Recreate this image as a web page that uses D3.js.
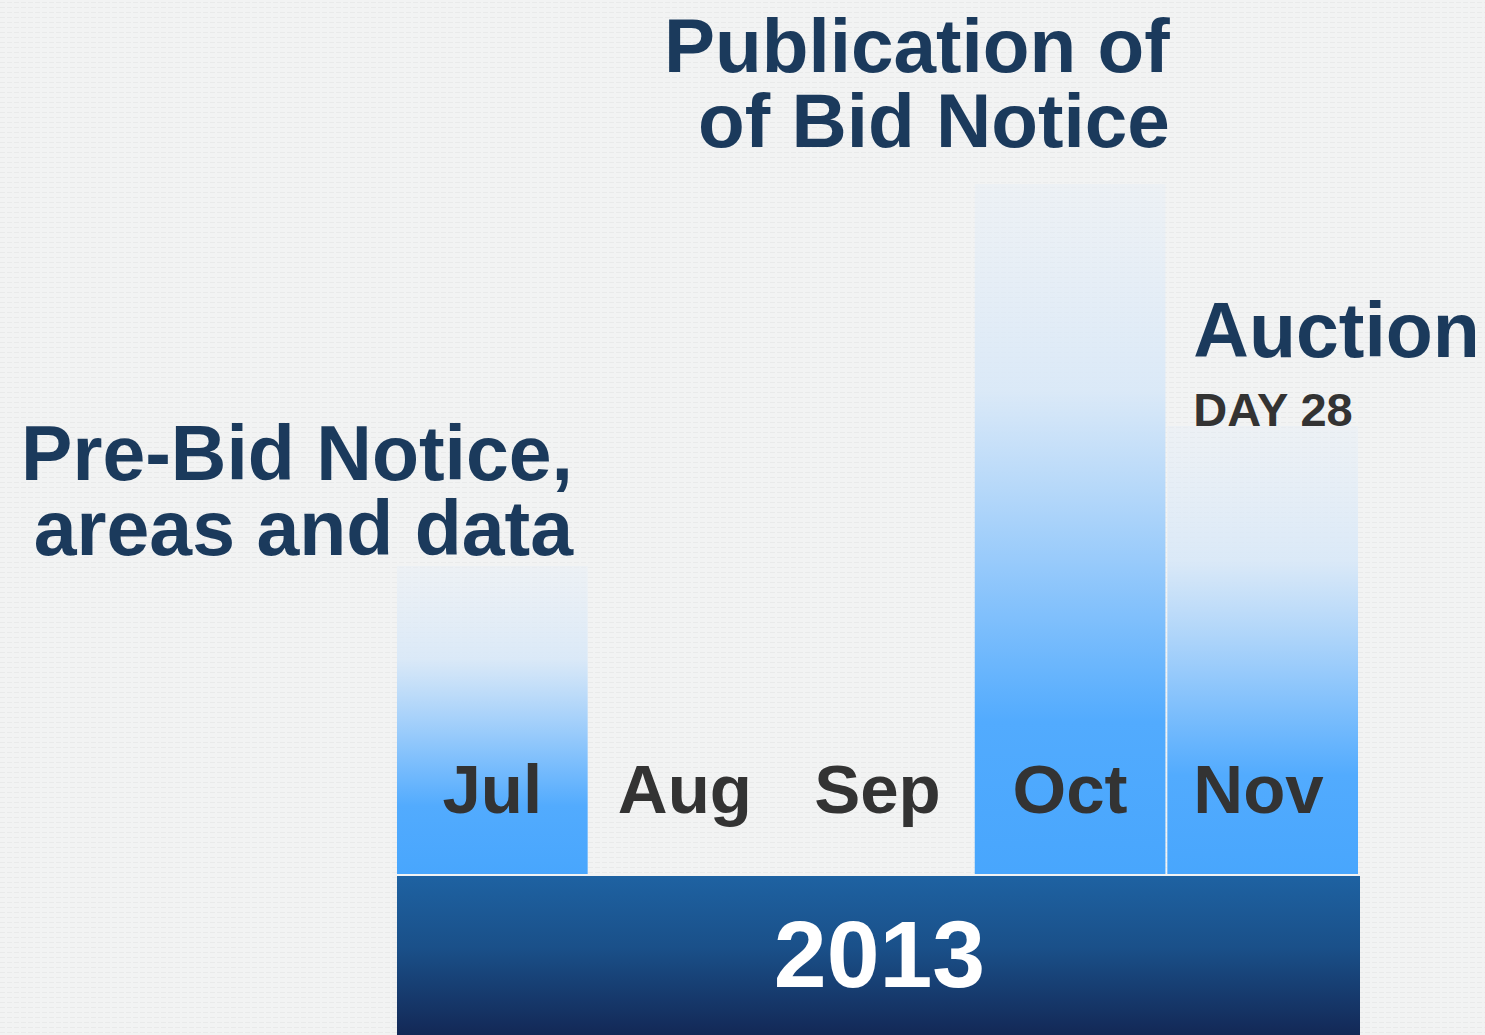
<!DOCTYPE html>
<html>
<head>
<meta charset="utf-8">
<script src="https://cdn.jsdelivr.net/npm/d3@7"></script>
<style>
  body { margin: 0; background: #f1f2f2; }
  svg { display: block; }
</style>
</head>
<body>
<div id="chart"></div>
<script>
// timeline data
const months = ["Jul", "Aug", "Sep", "Oct", "Nov"];
const barValues = [308, 0, 0, 690, 448];
const year = "2013";
const milestoneMonths = ["Jul", "Oct", "Nov"];
const milestoneTitles = [["Pre-Bid Notice,", "areas and data"], ["Publication of", "of Bid Notice"], ["Auction"]];
const milestoneSubs = ["", "", "DAY 28"];

var width = 1485, height = 1035;
var baseY = 874;

const svg = d3.select("#chart")
  .append("svg")
  .attr("width", width)
  .attr("height", height);

var defs = svg.append("defs");

// faint paper texture for the background
var pat = defs.append("pattern")
  .attr("id", "paper")
  .attr("width", 7).attr("height", 5)
  .attr("patternUnits", "userSpaceOnUse");
pat.append("rect").attr("width", 7).attr("height", 5).attr("fill", "#f2f3f3");
pat.append("rect").attr("y", 2).attr("width", 5).attr("height", 1).attr("fill", "#e9eaea");

svg.append("rect")
  .attr("width", width)
  .attr("height", height)
  .attr("fill", "url(#paper)");

// bar gradient, fades out towards the top
var barGrad = defs.append("linearGradient")
  .attr("id", "barGrad")
  .attr("x1", 0).attr("y1", 0).attr("x2", 0).attr("y2", 1);
barGrad.append("stop").attr("offset", "0%").attr("stop-color", "#e3edf8").attr("stop-opacity", 0.35);
barGrad.append("stop").attr("offset", "30%").attr("stop-color", "#d8e8f8").attr("stop-opacity", 0.9);
barGrad.append("stop").attr("offset", "55%").attr("stop-color", "#97cafb");
barGrad.append("stop").attr("offset", "78%").attr("stop-color", "#52abfe");
barGrad.append("stop").attr("offset", "100%").attr("stop-color", "#48a6fd");

var bandGrad = defs.append("linearGradient")
  .attr("id", "bandGrad")
  .attr("x1", 0).attr("y1", 0).attr("x2", 0).attr("y2", 1);
bandGrad.append("stop").attr("offset", "0%").attr("stop-color", "#1e62a2");
bandGrad.append("stop").attr("offset", "45%").attr("stop-color", "#1a5089");
bandGrad.append("stop").attr("offset", "100%").attr("stop-color", "#132856");

// scales
const x = d3.scaleBand()
  .domain(months)
  .range([397, 1358])
  .paddingInner(0.01);

const y = d3.scaleLinear()
  .domain([0, 690])
  .range([baseY, 184]);

// bars
svg.selectAll("rect.bar")
  .data(months.map((m, i) => ({name: m, value: barValues[i]})))
  .join("rect")
  .attr("class", "bar")
  .attr("x", d => x(d.name))
  .attr("y", d => y(d.value))
  .attr("width", x.bandwidth())
  .attr("height", d => baseY - y(d.value))
  .attr("fill", "url(#barGrad)");

// year band
svg.append("rect")
  .attr("x", x.range()[0])
  .attr("y", baseY + 2)
  .attr("width", x.range()[1] - x.range()[0] + 2)
  .attr("height", height - baseY - 2)
  .attr("fill", "url(#bandGrad)");

svg.append("text")
  .attr("x", (x.range()[0] + x.range()[1]) / 2 + 2)
  .attr("y", 987)
  .attr("text-anchor", "middle")
  .attr("font-family", "Liberation Sans, Arial, sans-serif")
  .attr("font-weight", "bold")
  .attr("font-size", 95)
  .attr("fill", "#ffffff")
  .text(year);

// month labels
svg.append("g")
  .attr("font-family", "Liberation Sans, Arial, sans-serif")
  .attr("font-weight", "bold")
  .attr("font-size", 69)
  .attr("fill", "#333333")
  .selectAll("text")
  .data(months)
  .join("text")
  .attr("x", d => d == "Nov" ? x(d) + 26 : x(d) + x.bandwidth() / 2)
  .attr("y", 813)
  .attr("text-anchor", d => d == "Nov" ? "start" : "middle")
  .text(d => d);

// milestone labels
var title = svg.append("g")
  .attr("font-family", "Liberation Sans, Arial, sans-serif")
  .attr("font-weight", "bold")
  .attr("fill", "#1b3a5c");

function addLines(lines, xPos, yPos, anchor, size) {
  lines.forEach((t, i) => {
    title.append("text")
      .attr("x", xPos)
      .attr("y", yPos + i * 75)
      .attr("text-anchor", anchor)
      .attr("font-size", size)
      .text(t);
  });
}

addLines(milestoneTitles[0], x(milestoneMonths[0]) + 176, 480, "end", 77);
addLines(milestoneTitles[1], x(milestoneMonths[1]) + 195, 72, "end", 76.5);
addLines(milestoneTitles[2], x(milestoneMonths[2]) + 26, 357, "start", 77);

svg.append("text")
  .attr("x", x(milestoneMonths[2]) + 26)
  .attr("y", 426)
  .attr("font-family", "Liberation Sans, Arial, sans-serif")
  .attr("font-weight", "bold")
  .attr("font-size", 47)
  .attr("fill", "#333333")
  .text(milestoneSubs[2]);
</script>
</body>
</html>
